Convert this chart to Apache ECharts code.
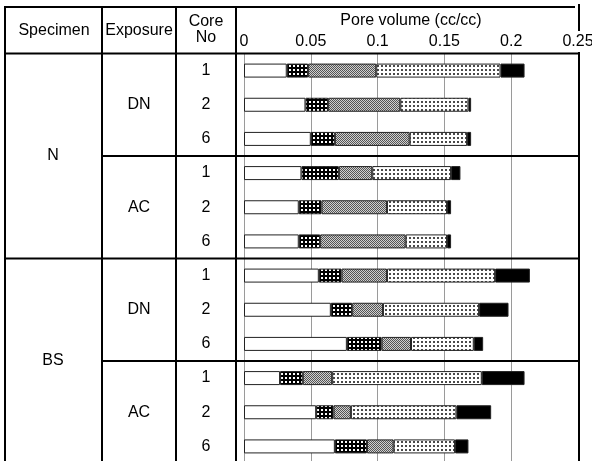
<!DOCTYPE html>
<html>
<head>
<meta charset="utf-8">
<script src="https://cdn.jsdelivr.net/npm/echarts@6/dist/echarts.min.js"></script>
<style>html,body{margin:0;padding:0;background:#fff;}#c{width:592px;height:461px;}</style>
</head>
<body>
<div id="c"></div>
<script>
// ---- data ----
var coreNo = ['1','2','6','1','2','6','1','2','6','1','2','6'];
var exposures = ['DN','AC','DN','AC'];
var specimens = ['N','BS'];
var xTicks = [0, 0.05, 0.1, 0.15, 0.2, 0.25];
var seg1 = [0.032,0.046,0.050,0.043,0.041,0.041,0.056,0.065,0.077,0.027,0.054,0.068];
var seg2 = [0.016,0.017,0.018,0.028,0.017,0.016,0.017,0.016,0.026,0.017,0.013,0.024];
var seg3 = [0.051,0.054,0.056,0.025,0.049,0.064,0.034,0.023,0.022,0.022,0.013,0.020];
var seg4 = [0.093,0.051,0.043,0.059,0.045,0.031,0.081,0.072,0.047,0.112,0.079,0.046];
var seg5 = [0.018,0.002,0.003,0.007,0.003,0.003,0.026,0.022,0.007,0.032,0.026,0.010];

function pattern(w,h,bg,fg,dots){
  var c=document.createElement('canvas'); c.width=w; c.height=h;
  var g=c.getContext('2d'); g.fillStyle=bg; g.fillRect(0,0,w,h);
  g.fillStyle=fg; dots.forEach(function(d){g.fillRect(d[0],d[1],d[2],d[3]);});
  return {image:c, repeat:'repeat'};
}
var darkDots = pattern(4,4,'#000','#fff',[[1,1,2,2]]);
var grayChk = pattern(2,2,'#d0d0d0','#555',[[0,0,1,1],[1,1,1,1]]);
var lightDots = pattern(4,4,'#fff','#4a4a4a',[[1,1,2,2]]);

var FONT = 'Liberation Sans, Arial, sans-serif';
var GL = 244, GT = 53.5, GW = 334, GH = 410;

function mk(name, data, color){
  return {name:name, type:'bar', stack:'t', data:data, barWidth:14, yAxisIndex:0,
    itemStyle:{color:color, borderColor:'#222', borderWidth:1}, animation:false, silent:true};
}

var chart = echarts.init(document.getElementById('c'), null, {renderer:'canvas'});
var band = GH/coreNo.length;
var L = function(x1,y1,x2,y2){return {type:'line', shape:{x1:x1,y1:y1,x2:x2,y2:y2}, style:{stroke:'#000', lineWidth:2}, z:100};};
var T = function(x,y,t,fs){return {type:'text', x:x, y:y, style:{text:t, font:fs+'px '+FONT, fill:'#000', align:'center', verticalAlign:'middle'}, z:100};};
var lines = [
  L(5,7,575,7), L(5,6,5,461), L(102,6,102,461), L(176,6,176,461), L(236,6,236,461),
  L(579,4,579,31), L(579,52,579,461),
  L(5,GT,579,GT), L(5,GT+band*6,579,GT+band*6),
  L(102,GT+band*3,579,GT+band*3), L(102,GT+band*9,579,GT+band*9),
  T(54,31,'Specimen',16), T(139,31,'Exposure',16), T(206,22,'Core',16), T(206,38,'No',16)
];

function yAx(data, fs, cx){
  return {type:'category', position:'left', inverse:true, data:data,
    axisLine:{show:false}, axisTick:{show:false}, splitLine:{show:false},
    axisLabel:{fontSize:fs, color:'#000', align:'center', margin:GL-cx, fontFamily:FONT}};
}

chart.setOption({
  animation:false,
  textStyle:{fontFamily:FONT},
  grid:{left:GL, top:GT, width:GW, height:GH, outerBoundsMode:'none', containLabel:false},
  xAxis:{type:'value', position:'top', min:xTicks[0], max:xTicks[xTicks.length-1], interval:0.05,
    name:'Pore volume (cc/cc)', nameLocation:'middle', nameGap:23,
    nameTextStyle:{fontSize:16, color:'#000', fontFamily:FONT},
    axisLine:{show:false}, axisTick:{show:false},
    axisLabel:{fontSize:16, color:'#000', margin:4, fontFamily:FONT, formatter:function(v){return String(+v.toFixed(2));}},
    splitLine:{show:true, lineStyle:{color:'#9a9a9a', width:1}}},
  yAxis:[ yAx(coreNo, 16, 206), yAx(exposures, 16, 139), yAx(specimens, 16, 53) ],
  series:[
    mk('s1', seg1, '#ffffff'),
    mk('s2', seg2, darkDots),
    mk('s3', seg3, grayChk),
    mk('s4', seg4, lightDots),
    mk('s5', seg5, '#000000')
  ],
  graphic:lines
});
</script>
</body>
</html>
